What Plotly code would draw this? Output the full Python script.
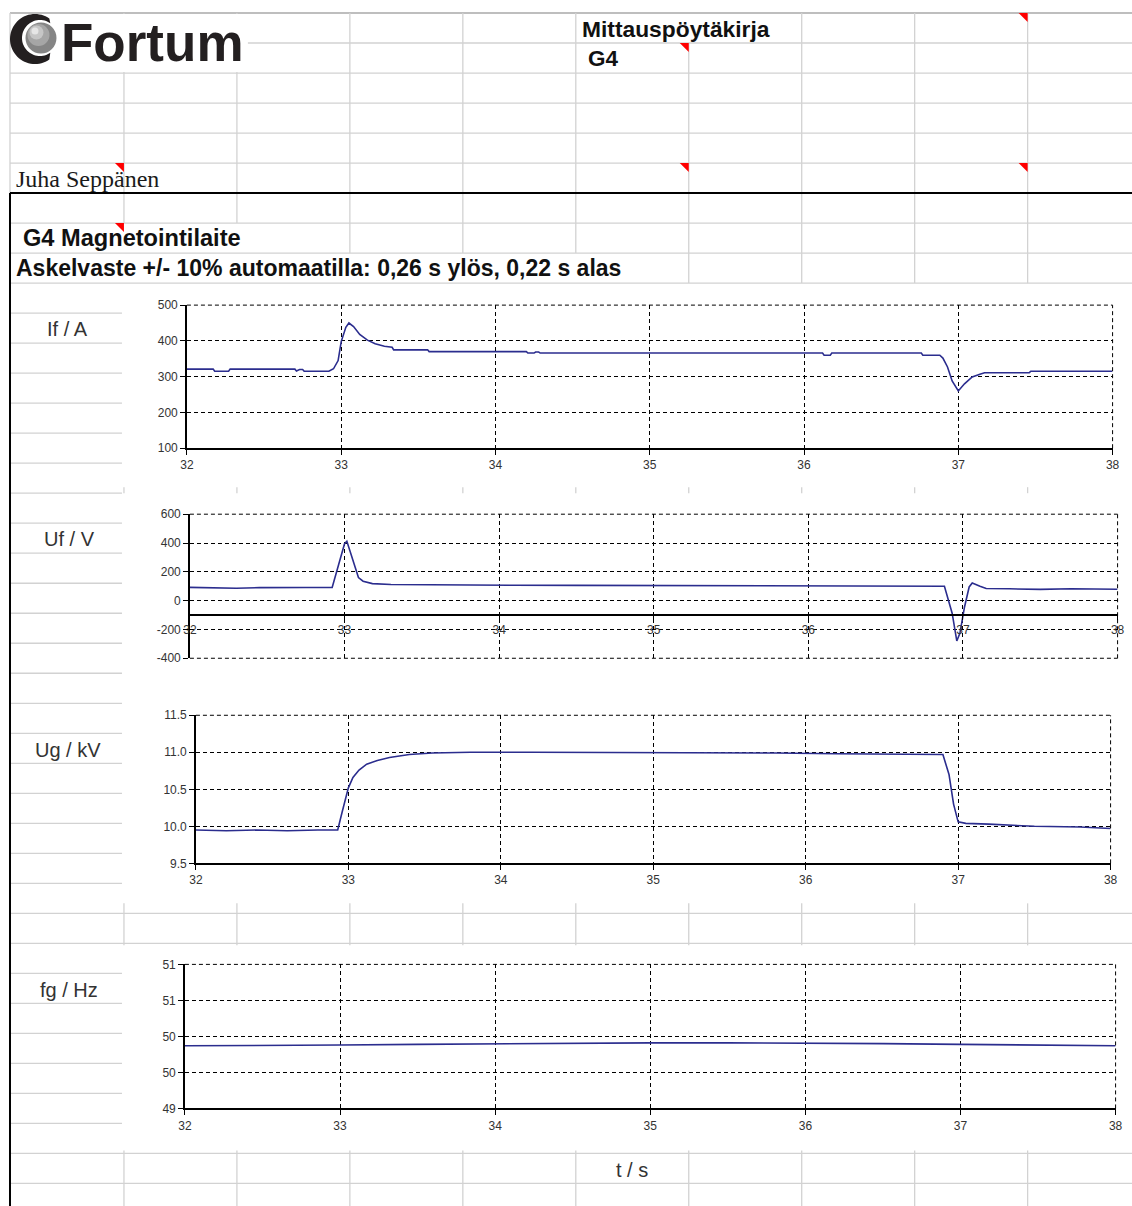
import math
import plotly.graph_objects as go

W, H = 1132, 1206
# measured capture transform of the photographed page (picture = S * page + O)
S, OX, OY = 0.988, 7.0, 7.0

# ---------------- data ----------------
t_if = [32.00, 32.17, 32.18, 32.27, 32.28, 32.70, 32.71, 32.73, 32.75, 32.76, 32.92, 32.95,
        32.98, 33.00, 33.03, 33.05, 33.08, 33.12, 33.17, 33.22, 33.28, 33.33, 33.34, 33.56,
        33.57, 34.20, 34.21, 34.25, 34.26, 34.28, 34.29, 36.12, 36.13, 36.17, 36.18, 36.76,
        36.77, 36.88, 36.90, 36.93, 36.96, 37.00, 37.04, 37.09, 37.14, 37.17, 37.46, 37.47, 38.00]
if_vals = [321, 321, 315, 315, 321, 321, 316, 320, 320, 315, 315, 322,
           345, 398, 438, 450, 440, 418, 402, 392, 385, 382, 375, 375,
           370, 370, 366, 366, 369, 369, 366, 366, 360, 360, 366, 366,
           360, 360, 352, 327, 288, 260, 280, 299, 307, 311, 311, 315, 315]

t_uf = [32.00, 32.15, 32.30, 32.45, 32.60, 32.75, 32.92, 32.96, 33.00, 33.015, 33.05, 33.09,
        33.12, 33.18, 33.30, 33.50, 33.80, 34.10, 34.50, 35.00, 35.50, 36.00, 36.50, 36.88,
        36.93, 36.96, 36.98, 37.01, 37.04, 37.06, 37.11, 37.15, 37.30, 37.50, 37.70, 37.90, 38.00]
uf_vals = [92, 88, 86, 90, 88, 91, 92, 240, 395, 412, 290, 160,
           135, 118, 112, 110, 108, 107, 106, 104, 103, 103, 101, 100,
           -87, -280, -227, -44, 95, 123, 100, 84, 82, 78, 83, 81, 79]

t_ug = [32.00, 32.20, 32.40, 32.60, 32.80, 32.93, 32.96, 33.00, 33.03, 33.07, 33.12, 33.19,
        33.27, 33.40, 33.55, 33.80, 34.20, 34.60, 35.00, 35.40, 35.80, 36.20, 36.60, 36.90,
        36.94, 36.97, 37.00, 37.05, 37.20, 37.50, 37.80, 38.00]
ug_vals = [9.95, 9.94, 9.95, 9.94, 9.95, 9.95, 10.20, 10.52, 10.66, 10.76, 10.84, 10.89,
           10.93, 10.97, 10.99, 11.00, 11.00, 11.00, 11.00, 10.99, 10.99, 10.98, 10.98, 10.97,
           10.70, 10.30, 10.06, 10.04, 10.03, 10.00, 9.99, 9.97]

t_fg = [32.0, 32.5, 33.0, 33.5, 34.0, 34.5, 35.0, 35.5, 36.0, 36.5, 37.0, 37.5, 38.0]
fg_vals = [49.87, 49.87, 49.88, 49.89, 49.90, 49.90, 49.91, 49.91, 49.91, 49.90, 49.89, 49.88, 49.87]

x_ticks = [32, 33, 34, 35, 36, 37, 38]
x_ticktext = ["32", "33", "34", "35", "36", "37", "38"]
if_ticks = [100, 200, 300, 400, 500]
if_ticktext = ["100", "200", "300", "400", "500"]
uf_ticks = [-400, -200, 0, 200, 400, 600]
uf_ticktext = ["-400", "-200", "0", "200", "400", "600"]
ug_ticks = [9.5, 10.0, 10.5, 11.0, 11.5]
ug_ticktext = ["9.5", "10.0", "10.5", "11.0", "11.5"]
fg_ticks = [49.0, 49.5, 50.0, 50.5, 51.0]
fg_ticktext = ["49", "50", "50", "51", "51"]

unit_labels = ["If / A", "Uf / V", "Ug / kV", "fg / Hz"]
x_label = "t / s"

# ---------------- helpers (target picture pixels -> paper) ----------------
def fx(px):
    return ((px - OX) / S) / W

def fy(py):
    return 1 - ((py - OY) / S) / H

LINE = "#2b2d8e"
GRID = "#d2d2d2"
TICKFONT = dict(family="Liberation Sans, Arial", size=12, color="#333333")
DASH = "4px,3px"

fig = go.Figure()

series = [(t_if, if_vals), (t_uf, uf_vals), (t_ug, ug_vals), (t_fg, fg_vals)]
for i, (tx, vy) in enumerate(series, start=1):
    fig.add_trace(go.Scatter(x=tx, y=vy, mode="lines", line=dict(color=LINE, width=1.6),
                             xaxis="x" if i == 1 else f"x{i}", yaxis="y" if i == 1 else f"y{i}",
                             hoverinfo="skip", showlegend=False))

# chart boxes in picture pixels: (left, right, top, bottom)
boxes = [(187, 1113, 305, 448), (190, 1118, 514, 658), (196, 1111, 715, 863), (185, 1116, 964, 1108)]
yranges = [[100, 500], [-400, 600], [9.5, 11.5], [49, 51]]
yticks = [(if_ticks, if_ticktext), (uf_ticks, uf_ticktext), (ug_ticks, ug_ticktext), (fg_ticks, fg_ticktext)]

layout = dict(width=W, height=H, margin=dict(l=0, r=0, t=0, b=0), paper_bgcolor="white",
              plot_bgcolor="white", showlegend=False)

for i, (l, r, t, b) in enumerate(boxes, start=1):
    xd = [fx(l), fx(r)]
    yd = [fy(b), fy(t)]
    xname = "xaxis" if i == 1 else f"xaxis{i}"
    yname = "yaxis" if i == 1 else f"yaxis{i}"
    xa = dict(domain=xd, range=[32, 38], tickmode="array", tickvals=x_ticks, ticktext=x_ticktext,
              showgrid=True, gridcolor="black", gridwidth=1, griddash=DASH, zeroline=False,
              showline=True, linecolor="black", linewidth=1.5, ticks="outside", ticklen=5,
              tickcolor="black", tickwidth=1, tickfont=TICKFONT, fixedrange=True)
    if i == 2:
        y0, y1 = yd
        lo, hi = yranges[1]
        xa["anchor"] = "free"
        xa["position"] = y0 + (-100 - lo) / (hi - lo) * (y1 - y0)
        xa["ticklen"] = 4
    else:
        xa["anchor"] = "y" if i == 1 else f"y{i}"
    tv, tt = yticks[i - 1]
    ya = dict(domain=yd, range=yranges[i - 1], tickmode="array", tickvals=tv, ticktext=tt,
              showgrid=True, gridcolor="black", gridwidth=1, griddash=DASH, zeroline=False,
              showline=True, linecolor="black", linewidth=1.5, ticks="outside", ticklen=5,
              tickcolor="black", tickwidth=1, tickfont=TICKFONT, fixedrange=True,
              anchor="x" if i == 1 else f"x{i}")
    layout[xname] = xa
    layout[yname] = ya

shapes = []

# dashed top / right (and bottom for chart 2) frame lines
for i in range(1, 5):
    xr = "x domain" if i == 1 else f"x{i} domain"
    yr = "y domain" if i == 1 else f"y{i} domain"
    shapes.append(dict(type="line", xref=xr, yref=yr, x0=0, x1=1, y0=1, y1=1,
                       line=dict(color="black", width=1, dash=DASH)))
    shapes.append(dict(type="line", xref=xr, yref=yr, x0=1, x1=1, y0=0, y1=1,
                       line=dict(color="black", width=1, dash=DASH)))
    if i == 2:
        shapes.append(dict(type="line", xref=xr, yref=yr, x0=0, x1=1, y0=0, y1=0,
                           line=dict(color="black", width=1, dash=DASH)))


def hline(y, x0, x1, color=GRID, width=1.3):
    shapes.append(dict(type="line", xref="paper", yref="paper", x0=fx(x0), x1=fx(x1),
                       y0=fy(y), y1=fy(y), line=dict(color=color, width=width), layer="below"))


def vline(x, y0, y1, color=GRID, width=1.3):
    shapes.append(dict(type="line", xref="paper", yref="paper", x0=fx(x), x1=fx(x),
                       y0=fy(y0), y1=fy(y1), line=dict(color=color, width=width), layer="below"))


COLS = [124, 237, 350, 463, 576, 689, 802, 915, 1028]
RIGHT = 1140
BOTTOM = 1215

# header grid
hline(13, 10, RIGHT, "#a8a8a8", 1.5)
for y in [43, 73, 103, 133, 163]:
    hline(y, 10, RIGHT)
vline(10, 13, 193)
for c in COLS:
    if c == 689:
        vline(c, 43, 193)
    else:
        vline(c, 13, 193)
# logo background (covers grid)
shapes.append(dict(type="rect", xref="paper", yref="paper", x0=fx(11), x1=fx(248), y0=fy(72), y1=fy(14),
                   fillcolor="white", line=dict(width=0), layer="below"))

# rows under the black line
for c in COLS:
    vline(c, 193, 223)
for y in [223, 253, 283]:
    hline(y, 10, RIGHT)
for c in COLS:
    if c >= 350:
        vline(c, 223, 253)
    if c >= 689:
        vline(c, 253, 283)
for y in range(313, 884, 30):
    hline(y, 10, 122)
for y in range(973, 1124, 30):
    hline(y, 10, 122)
hline(913, 10, RIGHT)
hline(943, 10, RIGHT)
for c in COLS:
    vline(c, 903, 945)
    vline(c, 1150, BOTTOM)
    vline(c, 487, 493)
hline(1153, 10, RIGHT)
hline(1183, 10, RIGHT)

hline(193, 10, RIGHT, "black", 2)
vline(10, 193, BOTTOM, "black", 2)

# red comment markers
for (xr_, yt_) in [(1028, 13), (689, 43), (689, 163), (1028, 163), (124, 163), (124, 223)]:
    shapes.append(dict(type="path", xref="paper", yref="paper",
                       path=f"M {fx(xr_-9)},{fy(yt_)} L {fx(xr_)},{fy(yt_)} L {fx(xr_)},{fy(yt_+9)} Z",
                       fillcolor="#ff0000", line=dict(width=0)))

# logo: dark crescent + grey sphere
cx, cy, R = 35, 39, 25
icx, icy, ir = 40, 38, 18
pts = []
for k in range(0, 51):
    a = math.radians(55 + k * 5)
    pts.append((cx + R * math.cos(a), cy - R * math.sin(a)))
for k in range(50, -1, -1):
    a = math.radians(55 + k * 5)
    pts.append((icx + ir * math.cos(a), icy - ir * math.sin(a)))
path = "M " + " L ".join(f"{fx(px)},{fy(py)}" for px, py in pts) + " Z"
shapes.append(dict(type="path", xref="paper", yref="paper", path=path, fillcolor="#231f20",
                   line=dict(width=0)))
for (scx, scy, sr, col) in [(41, 38, 15.5, "#858585"), (38.5, 35, 11, "#a6a6a6"),
                            (36.5, 32.5, 7, "#c6c6c6"), (35, 31, 3.5, "#e6e6e6")]:
    shapes.append(dict(type="circle", xref="paper", yref="paper", x0=fx(scx - sr), x1=fx(scx + sr),
                       y0=fy(scy + sr), y1=fy(scy - sr), fillcolor=col, line=dict(width=0)))

layout["shapes"] = shapes

ann = []


def text(s, x, y, size, family="Liberation Sans, Arial", color="#111111", xanchor="left"):
    ann.append(dict(text=s, x=fx(x), y=fy(y), xref="paper", yref="paper", xanchor=xanchor,
                    yanchor="middle", showarrow=False, font=dict(family=family, size=size, color=color)))


text("<b>Fortum</b>", 59, 42, 53, color="#231f20")
text("<b>Mittauspöytäkirja</b>", 580, 29, 22.8)
text("<b>G4</b>", 586, 58, 22.5)
text("Juha Seppänen", 14, 179, 24, family="Liberation Serif, Times New Roman", color="#1a1a1a")
text("<b>G4 Magnetointilaite</b>", 21, 238, 23.6)
text("<b>Askelvaste +/- 10% automaatilla: 0,26 s ylös, 0,22 s alas</b>", 14, 268, 23)
for s, (x, y) in zip(unit_labels, [(68, 329), (70, 539), (68, 750), (69, 990)]):
    text(s, x, y, 20, color="#333333", xanchor="center")
text(x_label, 632, 1170, 20, color="#333333", xanchor="center")

layout["annotations"] = ann
fig.update_layout(**layout)

fig.write_html("out.html", config={"displayModeBar": False},
               post_script="document.body.style.margin='0';")
